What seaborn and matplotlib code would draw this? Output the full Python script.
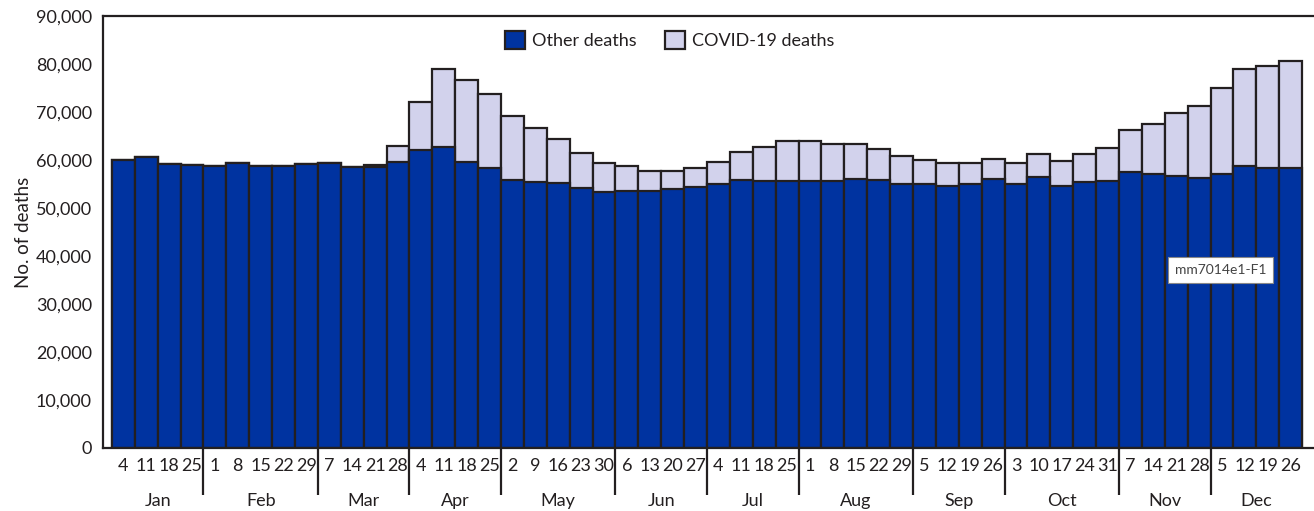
import matplotlib
matplotlib.use("Agg")
import matplotlib.pyplot as plt
import matplotlib.transforms as mtransforms
from matplotlib.ticker import FuncFormatter
from matplotlib.patches import Patch
import seaborn as sns
import pandas as pd

# ---- data ----
week_month = (["Jan"] * 4 + ["Feb"] * 5 + ["Mar"] * 4 + ["Apr"] * 4 + ["May"] * 5 +
              ["Jun"] * 4 + ["Jul"] * 4 + ["Aug"] * 5 + ["Sep"] * 4 + ["Oct"] * 5 +
              ["Nov"] * 4 + ["Dec"] * 4)
week_day = [4, 11, 18, 25, 1, 8, 15, 22, 29, 7, 14, 21, 28, 4, 11, 18, 25,
            2, 9, 16, 23, 30, 6, 13, 20, 27, 4, 11, 18, 25, 1, 8, 15, 22, 29,
            5, 12, 19, 26, 3, 10, 17, 24, 31, 7, 14, 21, 28, 5, 12, 19, 26]
other_deaths = [60000, 60600, 59200, 59000, 58700, 59400, 58700, 58800, 59200,
                59400, 58500, 58500, 59500, 62100, 62700, 59500, 58300,
                55900, 55400, 55200, 54200, 53300, 53600, 53600, 54000, 54400,
                55100, 55800, 55700, 55700, 55700, 55700, 56000, 55800, 55100,
                54900, 54600, 55100, 56000, 55100, 56500, 54600, 55500, 55700,
                57600, 57000, 56700, 56200, 57000, 58800, 58300, 58400]
total_deaths = [60000, 60600, 59200, 59000, 58700, 59400, 58700, 58800, 59200,
                59400, 58500, 59000, 62900, 72000, 78900, 76600, 73700,
                69100, 66600, 64300, 61400, 59400, 58700, 57700, 57700, 58300,
                59500, 61700, 62800, 63900, 63900, 63400, 63300, 62300, 60900,
                59900, 59300, 59400, 60300, 59400, 61200, 59800, 61300, 62600,
                66200, 67400, 69700, 71250, 74900, 78900, 79500, 80600]
covid_deaths = [t - o for t, o in zip(total_deaths, other_deaths)]
month_names = ["Jan", "Feb", "Mar", "Apr", "May", "Jun", "Jul", "Aug",
               "Sep", "Oct", "Nov", "Dec"]
y_ticks = list(range(0, 90001, 10000))

week_id = [f"{m}-{d}" for m, d in zip(week_month, week_day)]
df = pd.DataFrame({"week": week_id, "other": other_deaths,
                   "covid": covid_deaths, "total": total_deaths})

# ---- style ----
sns.set_theme(style="white")
plt.rcParams["font.family"] = ["Lato", "DejaVu Sans"]

DARK = "#0033A0"
LIGHT = "#D2D2EC"
EDGE = "#231F20"
TXT = "#231F20"

fig = plt.figure(figsize=(13.14, 5.11), dpi=100)
ax = fig.add_axes([103 / 1314, 1 - 448 / 511, 1 - 103 / 1314, (448 - 16) / 511])

sns.barplot(data=df, x="week", y="total", order=week_id, color=LIGHT,
            edgecolor=EDGE, linewidth=1.6, width=1.0, errorbar=None,
            saturation=1, ax=ax)
sns.barplot(data=df, x="week", y="other", order=week_id, color=DARK,
            edgecolor=EDGE, linewidth=1.6, width=1.0, errorbar=None,
            saturation=1, ax=ax)

ax.set_xlim(-0.89, 52.02)
ax.set_ylim(0, 90000)
ax.set_yticks(y_ticks)
ax.yaxis.set_major_formatter(FuncFormatter(lambda v, p: f"{int(v):,}"))
ax.set_xticks(range(len(week_day)))
ax.set_xticklabels([str(d) for d in week_day])
ax.tick_params(axis="both", direction="out", length=6, width=1.6,
               color=EDGE, labelcolor=TXT, labelsize=13)
ax.tick_params(axis="x", pad=1.5)
ax.tick_params(axis="y", pad=2)
ax.set_xlabel("")
ax.set_ylabel("No. of deaths", fontsize=13.5, color=TXT, labelpad=3)

for s in ["left", "bottom", "top"]:
    ax.spines[s].set_visible(True)
    ax.spines[s].set_color(EDGE)
    ax.spines[s].set_linewidth(1.6)
ax.spines["right"].set_visible(False)

# month separators and labels
trans = mtransforms.blended_transform_factory(ax.transData, ax.transAxes)
starts = [i for i in range(len(week_month)) if i == 0 or week_month[i] != week_month[i - 1]]
for s in starts[1:]:
    ax.plot([s - 0.5, s - 0.5], [0, -0.109], transform=trans, color=EDGE,
            lw=1.6, clip_on=False, solid_capstyle="butt")
ends = starts[1:] + [len(week_month)]
for m, s, e in zip(month_names, starts, ends):
    ax.text((s + e - 1) / 2, -0.122, m, transform=trans, ha="center",
            va="center", fontsize=13, color=TXT)

# legend
handles = [Patch(facecolor=DARK, edgecolor=EDGE, linewidth=1.6, label="Other deaths"),
           Patch(facecolor=LIGHT, edgecolor=EDGE, linewidth=1.6, label="COVID-19 deaths")]
ax.legend(handles=handles, loc="center", bbox_to_anchor=(0.468, 0.944), ncol=2,
          frameon=False, fontsize=13, handlelength=1.1, handleheight=1.1,
          handletextpad=0.4, columnspacing=1.6, labelcolor=TXT)

# figure id box
ax.text(0.923, 0.413, "mm7014e1-F1", transform=ax.transAxes, ha="center",
        va="center", fontsize=10, color="#444444",
        bbox=dict(boxstyle="square,pad=0.5", facecolor="white",
                  edgecolor="#888888", linewidth=0.8))

fig.savefig("out.png", dpi=100)
